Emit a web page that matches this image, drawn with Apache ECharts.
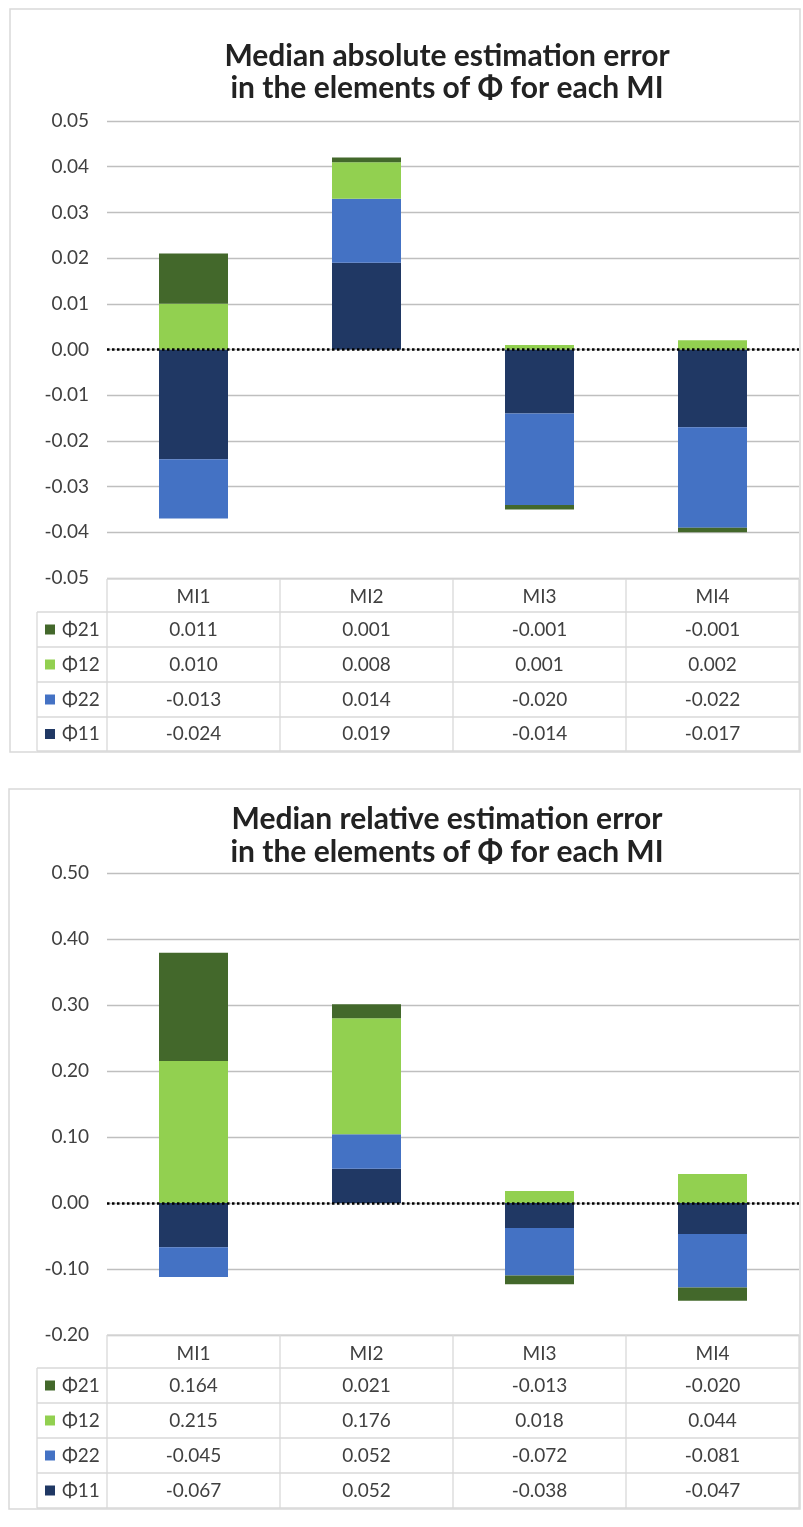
<!DOCTYPE html>
<html><head><meta charset="utf-8">
<script src="https://cdn.jsdelivr.net/npm/echarts@6/dist/echarts.min.js"></script>
<style>html,body{margin:0;padding:0;background:#fff}#c{width:803px;height:1527px}</style>
</head><body><div id="c"></div>
<script>
// ---------- data ----------
const categories = ['MI1', 'MI2', 'MI3', 'MI4'];
const seriesNames = ['Φ11', 'Φ22', 'Φ12', 'Φ21'];          // stacking order (bottom -> top)
const tableOrder = ['Φ21', 'Φ12', 'Φ22', 'Φ11'];           // table rows, top -> bottom
const seriesColors = ['#203864', '#4472C4', '#92D050', '#43682B'];

const absPhi11 = [-0.024, 0.019, -0.014, -0.017];
const absPhi22 = [-0.013, 0.014, -0.020, -0.022];
const absPhi12 = [0.010, 0.008, 0.001, 0.002];
const absPhi21 = [0.011, 0.001, -0.001, -0.001];

const relPhi11 = [-0.067, 0.052, -0.038, -0.047];
const relPhi22 = [-0.045, 0.052, -0.072, -0.081];
const relPhi12 = [0.215, 0.176, 0.018, 0.044];
const relPhi21 = [0.164, 0.021, -0.013, -0.020];

const absAxis = { min: -0.05, max: 0.05, step: 0.01, decimals: 2 };
const relAxis = { min: -0.2, max: 0.5, step: 0.1, decimals: 2 };

const absTitle = ['Median absolute estimation error', 'in the elements of Φ for each MI'];
const relTitle = ['Median relative estimation error', 'in the elements of Φ for each MI'];

// ---------- layout ----------
const FONT = 'Lato, "Open Sans", sans-serif';
const TXT = '#404040';
const BORDER = '#D9D9D9';
const GRIDLEFT = 107, GRIDRIGHT = 799, TABLELEFT = 37;
const FS = 19;

const panels = [
  { box: [10, 9, 800, 752], title: absTitle, titleX: 447, titleY: [56, 88], top: 121, bottom: 578,
    rows: [579, 612, 647, 682, 717, 751], axis: absAxis,
    data: [absPhi11, absPhi22, absPhi12, absPhi21] },
  { box: [9, 789, 800, 1509], title: relTitle, titleX: 447, titleY: [819, 852], top: 873, bottom: 1335,
    rows: [1335, 1368, 1403, 1438, 1473, 1508], axis: relAxis,
    data: [relPhi11, relPhi22, relPhi12, relPhi21] }
];

const chart = echarts.init(document.getElementById('c'), null, { renderer: 'canvas' });

const grids = [], xAxes = [], yAxes = [], series = [];
panels.forEach((p, i) => {
  grids.push({ left: GRIDLEFT, width: GRIDRIGHT - GRIDLEFT, top: p.top, height: p.bottom - p.top, containLabel: false });
  xAxes.push({
    type: 'category', gridIndex: i, data: categories,
    axisLine: { show: false }, axisTick: { show: false },
    axisLabel: { fontFamily: FONT, fontSize: FS, color: TXT, margin: 9, lineHeight: 19 }
  });
  yAxes.push({
    type: 'value', gridIndex: i, min: p.axis.min, max: p.axis.max, interval: p.axis.step,
    axisLine: { show: false }, axisTick: { show: false },
    axisLabel: { fontFamily: FONT, fontSize: FS, color: TXT, margin: 18,
      formatter: v => v.toFixed(p.axis.decimals) },
    splitLine: { lineStyle: { color: '#BFBFBF', width: 1.3 } }
  });
  seriesNames.forEach((name, k) => {
    const s = {
      name: name + '_' + i, type: 'bar', xAxisIndex: i, yAxisIndex: i, stack: 'st' + i,
      stackStrategy: 'samesign',
      barWidth: 69, data: p.data[k], itemStyle: { color: seriesColors[k] },
      silent: true, animation: false
    };
    if (k === seriesNames.length - 1) {
      s.markLine = {
        silent: true, symbol: 'none', label: { show: false }, animation: false,
        lineStyle: { color: '#000', width: 2.5, type: [2.5, 2.5] },
        data: [{ yAxis: 0 }]
      };
    }
    series.push(s);
  });
});

chart.setOption({
  animation: false,
  grid: grids, xAxis: xAxes, yAxis: yAxes, series: series
});

// ---------- frames, titles, data tables ----------
const g = [];
const line = (x1, y1, x2, y2, color, w) => g.push({
  type: 'line', silent: true, z: 10,
  shape: { x1, y1, x2, y2 }, style: { stroke: color || BORDER, lineWidth: w || 1.3 }
});
panels.forEach((p, i) => {
  const [bx1, by1, bx2, by2] = p.box;
  g.push({ type: 'rect', silent: true, z: -1, shape: { x: bx1, y: by1, width: bx2 - bx1, height: by2 - by1 },
    style: { fill: 'none', stroke: BORDER, lineWidth: 1.5 } });
  p.title.forEach((t, j) => g.push({
    type: 'text', silent: true, z: 10, x: p.titleX, y: p.titleY[j],
    style: { text: t, fill: '#222222', font: 'bold 30px ' + FONT, align: 'center', verticalAlign: 'middle' }
  }));
  const r = p.rows;
  const band = (GRIDRIGHT - GRIDLEFT) / categories.length;
  const centers = categories.map(c => chart.convertToPixel({ xAxisIndex: i }, c));
  const bounds = [GRIDLEFT].concat(centers.map(cx => cx + band / 2));
  line(GRIDLEFT, r[0], GRIDRIGHT, r[0]);
  for (let k = 1; k < r.length; k++) line(TABLELEFT, r[k], GRIDRIGHT, r[k]);
  line(TABLELEFT, r[1], TABLELEFT, r[r.length - 1]);
  bounds.forEach(x => line(x, r[0], x, r[r.length - 1]));
  tableOrder.forEach((name, k) => {
    const si = seriesNames.indexOf(name);
    const yc = (r[k + 1] + r[k + 2]) / 2;
    g.push({ type: 'rect', silent: true, z: 10, shape: { x: 45, y: yc - 5, width: 10, height: 10 },
      style: { fill: seriesColors[si] } });
    g.push({ type: 'text', silent: true, z: 10, x: 62, y: yc,
      style: { text: name, fill: TXT, font: FS + 'px ' + FONT, align: 'left', verticalAlign: 'middle' } });
    p.data[si].forEach((v, c) => g.push({
      type: 'text', silent: true, z: 10, x: centers[c], y: yc,
      style: { text: v.toFixed(3), fill: TXT, font: FS + 'px ' + FONT, align: 'center', verticalAlign: 'middle' }
    }));
  });
});
chart.setOption({ graphic: { elements: g } });
</script>
</body></html>
